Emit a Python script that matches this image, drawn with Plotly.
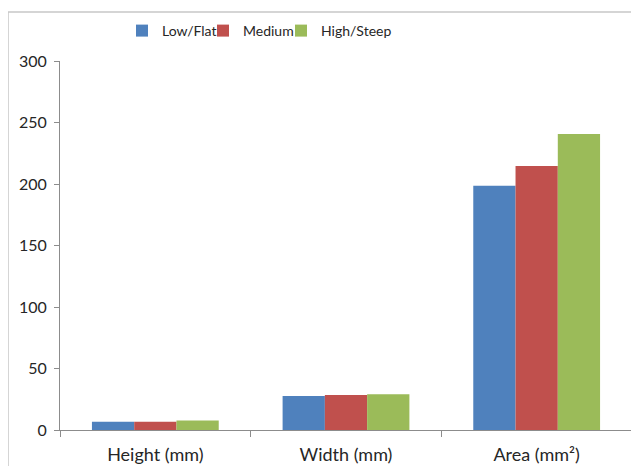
import plotly.graph_objects as go

categories = ["Height (mm)", "Width (mm)", "Area (mm²)"]
series_names = ["Low/Flat", "Medium", "High/Steep"]
low_flat = [6.8, 27.6, 198.6]
medium = [6.8, 28.4, 214.6]
high_steep = [7.7, 29.0, 240.7]
colors = ["#4F81BD", "#C0504D", "#9BBB59"]
y_ticks = [0, 50, 100, 150, 200, 250, 300]

W, H = 639, 466
OFF = 8  # page body offset
L, R, T, B = 52, 15, 53, 44
pw = W - L - R
ph = H - T - B

legend_ids = ["legend", "legend2", "legend3"]
legend_x = [114, 195, 273]

fig = go.Figure()
for name, vals, col, lid in zip(series_names, [low_flat, medium, high_steep], colors, legend_ids):
    fig.add_trace(go.Bar(x=categories, y=vals, name=name, legend=lid, showlegend=True,
                         marker=dict(color=col, line=dict(width=0))))

legend_common = dict(orientation="h", xanchor="left", xref="container", yref="container",
                     y=1 - 23 / H, yanchor="middle", bgcolor="rgba(0,0,0,0)",
                     font=dict(size=14, color="#262626"))
leg_layout = {}
for lid, lx in zip(legend_ids, legend_x):
    leg_layout[lid] = dict(legend_common, x=lx / W)

fig.update_layout(
    width=W, height=H, showlegend=True,
    margin=dict(l=L, r=R, t=T, b=B, pad=0, autoexpand=False),
    paper_bgcolor="white", plot_bgcolor="white",
    barmode="group", bargap=0.335, bargroupgap=0,
    font=dict(family="Lato, 'Open Sans', sans-serif", size=15, color="#262626"),
    xaxis=dict(showline=True, linecolor="#8c8c8c", linewidth=1, ticks="outside", tickson="boundaries",
               ticklen=6, tickcolor="#8c8c8c", showgrid=False, ticklabelstandoff=8,
               tickfont=dict(size=18, color="#262626")),
    yaxis=dict(range=[0, 300], tickvals=y_ticks, showline=True, linecolor="#8c8c8c", linewidth=1,
               ticks="outside", ticklen=5, tickcolor="#8c8c8c", showgrid=False, zeroline=False,
               ticklabelstandoff=4, tickfont=dict(size=16, color="#262626")),
    shapes=[dict(type="rect", xref="paper", yref="paper",
                 x0=(OFF - (L + OFF)) / pw, x1=1.2, y0=-0.3, y1=((H - B + OFF) - 12) / ph,
                 line=dict(color="#c8c8c8", width=1.5), fillcolor="rgba(0,0,0,0)", layer="below")],
    **leg_layout,
)

fig.write_html("out.html")
